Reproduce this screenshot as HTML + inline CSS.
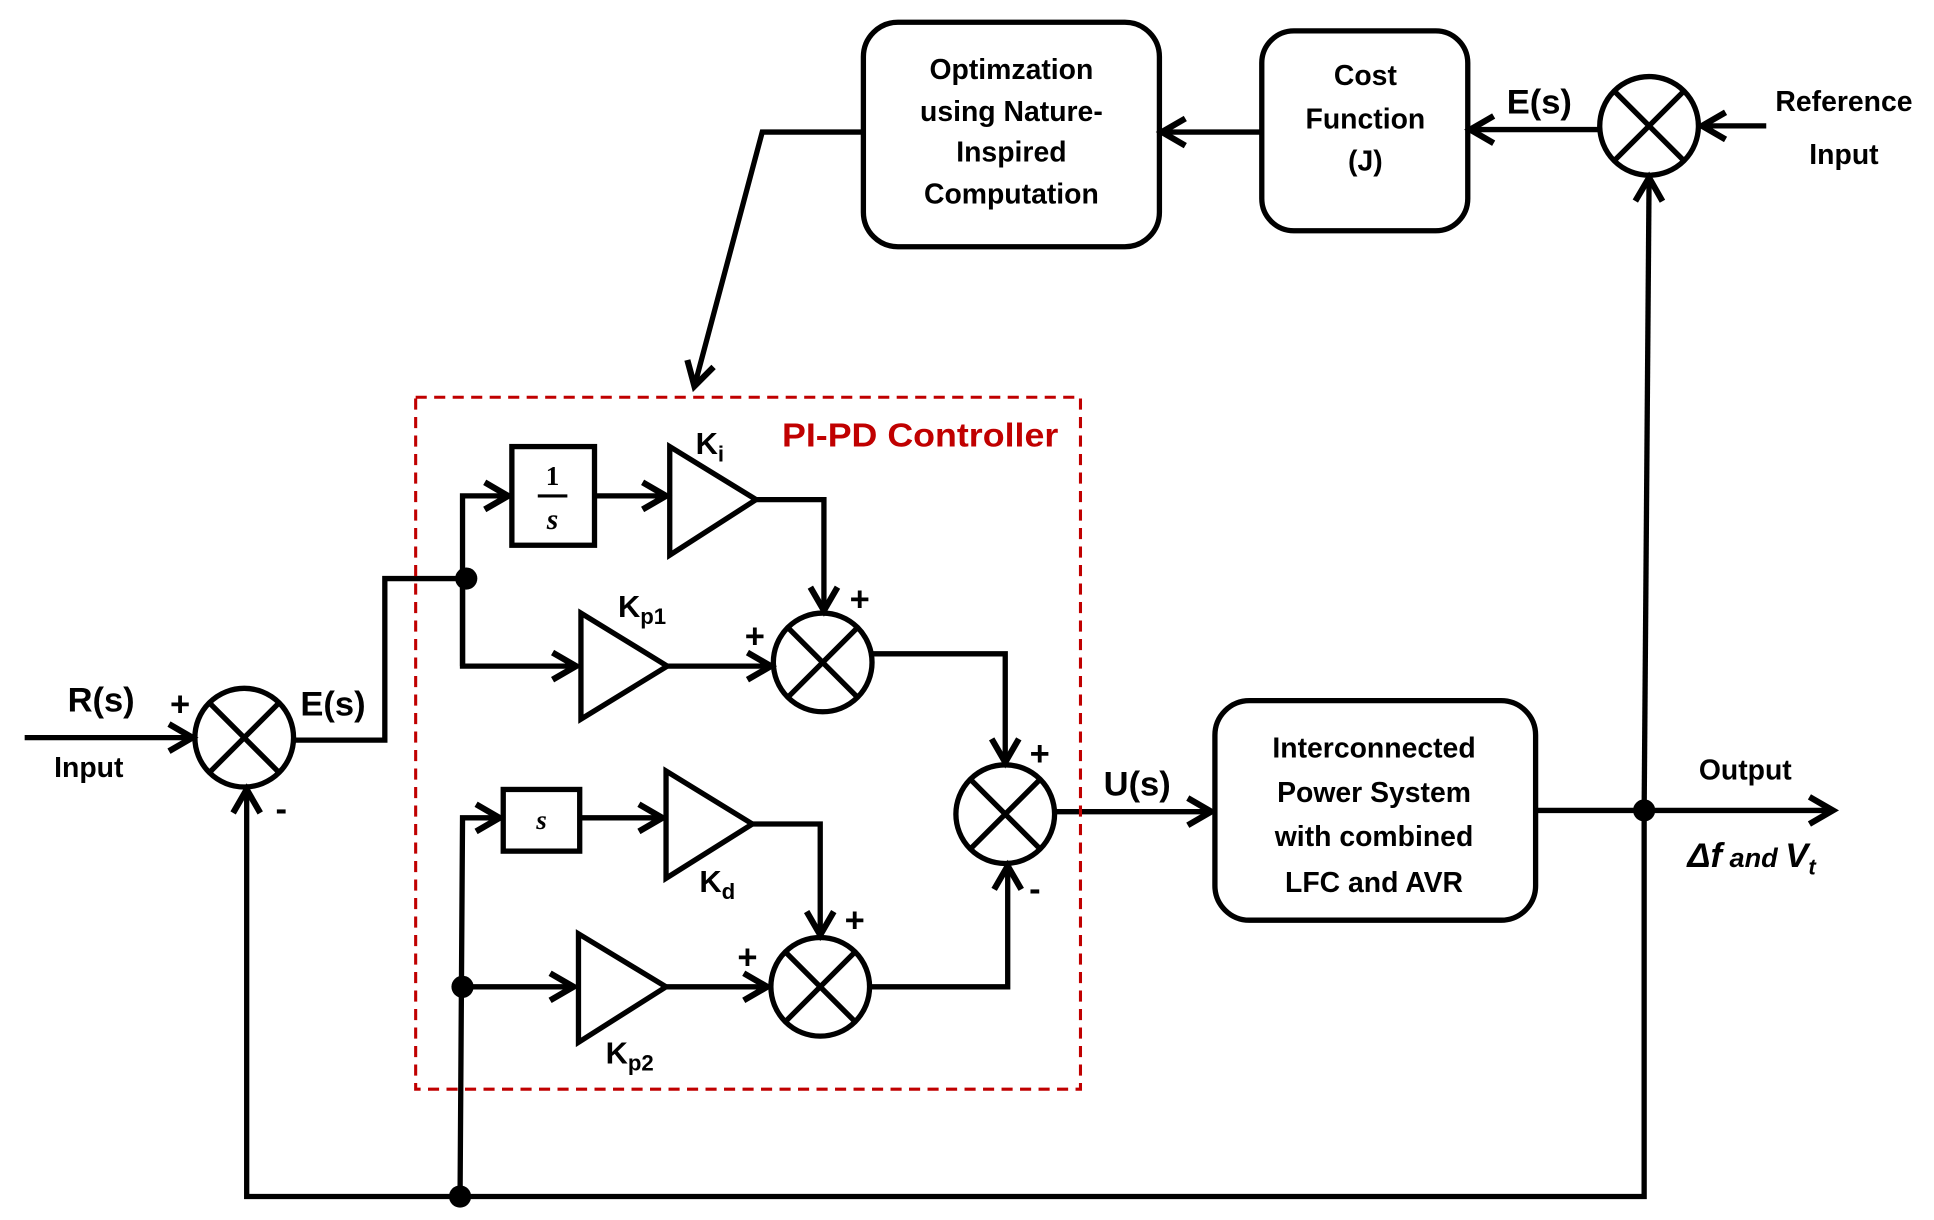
<!DOCTYPE html>
<html><head><meta charset="utf-8"><style>
html,body{margin:0;padding:0;background:#fff;}
svg{display:block}
text{font-family:"Liberation Sans",sans-serif;font-weight:bold;fill:#000}
</style></head><body>
<svg width="1934" height="1220" viewBox="0 0 1568 989" xmlns="http://www.w3.org/2000/svg">
<defs>
<marker id="a" markerWidth="10" markerHeight="10" refX="8" refY="5" orient="auto" markerUnits="userSpaceOnUse" viewBox="0 0 10 10" style="overflow:visible">
<path d="M-11,-6 L8,5 L-11,16" fill="none" stroke="#000" stroke-width="5" stroke-linejoin="miter"/>
</marker>
</defs>
<g fill="none" stroke="#000" stroke-width="4.3">
<rect x="700" y="18" width="240" height="182" rx="28"/>
<rect x="1023" y="25" width="167" height="162" rx="26"/>
<circle cx="1337" cy="102" r="40"/>
<path d="M1309,74 L1365,130 M1365,74 L1309,130"/>
<path d="M1432,102 L1380,102" marker-end="url(#a)"/>
<path d="M1297,105 L1192,105" marker-end="url(#a)"/>
<path d="M1023,107 L942,107" marker-end="url(#a)"/>
<path d="M700,107 L618,107 L563,313" marker-end="url(#a)"/>
<path d="M1333,657 L1337,144" marker-end="url(#a)"/>
<path d="M20,598 L156,598" marker-end="url(#a)"/>
<circle cx="198" cy="598" r="40"/>
<path d="M170,570 L226,626 M226,570 L170,626"/>
<path d="M238,600 L312,600 L312,469 L378,469"/>
<path d="M375,540 L375,402 L412,402" marker-end="url(#a)"/>
<path d="M375,469 L375,540 L467,540" marker-end="url(#a)"/>
<rect x="415" y="362" width="67" height="80"/>
<path d="M482,402 L540,402" marker-end="url(#a)"/>
<path d="M543,362 L543,450 L613,405 Z"/>
<path d="M613,405 L668,405 L668,495" marker-end="url(#a)"/>
<path d="M471,497 L471,583 L541,540 Z"/>
<path d="M541,540 L625,540" marker-end="url(#a)"/>
<circle cx="667" cy="537" r="40"/>
<path d="M639,509 L695,565 M695,509 L639,565"/>
<path d="M707,530 L815,530 L815,618" marker-end="url(#a)"/>
<circle cx="815" cy="660" r="40"/>
<path d="M787,632 L843,688 M843,632 L787,688"/>
<path d="M855,658 L982,658" marker-end="url(#a)"/>
<rect x="985" y="568" width="260" height="178" rx="28"/>
<path d="M1245,657 L1486,657" marker-end="url(#a)"/>
<path d="M1333,657 L1333,970 L200,970 L200,640" marker-end="url(#a)"/>
<path d="M373,970 L375,663 L405,663" marker-end="url(#a)"/>
<rect x="408" y="640" width="62" height="50"/>
<path d="M470,663 L537,663" marker-end="url(#a)"/>
<path d="M540,625 L540,712 L610,668 Z"/>
<path d="M610,668 L665,668 L665,758" marker-end="url(#a)"/>
<path d="M375,800 L465,800" marker-end="url(#a)"/>
<path d="M469,757 L469,845 L540,800 Z"/>
<path d="M540,800 L622,800" marker-end="url(#a)"/>
<circle cx="665" cy="800" r="40"/>
<path d="M637,772 L693,828 M693,772 L637,828"/>
<path d="M705,800 L817,800 L817,702" marker-end="url(#a)"/>
</g>
<g fill="#000">
<circle cx="378" cy="469" r="9"/>
<circle cx="375" cy="800" r="9"/>
<circle cx="373" cy="970" r="9"/>
<circle cx="1333" cy="657" r="9"/>
</g>
<rect x="337" y="322" width="539" height="561" fill="none" stroke="#c00000" stroke-width="2.5" stroke-dasharray="9,6"/>
<text x="746" y="362" text-anchor="middle" font-size="27" textLength="224" lengthAdjust="spacingAndGlyphs" style="fill:#c00000">PI-PD Controller</text>
<g font-size="23" text-anchor="middle">
<text x="820" y="64">Optimzation</text>
<text x="820" y="98">using Nature-</text>
<text x="820" y="131">Inspired</text>
<text x="820" y="165">Computation</text>
<text x="1107" y="69">Cost</text>
<text x="1107" y="104">Function</text>
<text x="1107" y="138">(J)</text>
<text x="1495" y="90">Reference</text>
<text x="1495" y="133">Input</text>
<text x="1114" y="614">Interconnected</text>
<text x="1114" y="650">Power System</text>
<text x="1114" y="686">with combined</text>
<text x="1114" y="723">LFC and AVR</text>
<text x="1415" y="632">Output</text>
<text x="72" y="630">Input</text>
</g>
<g font-size="28" text-anchor="middle">
<text x="1248" y="92">E(s)</text>
<text x="82" y="577">R(s)</text>
<text x="270" y="580">E(s)</text>
<text x="922" y="645">U(s)</text>
<text x="146" y="580">+</text>
<text x="228" y="665">-</text>
<text x="697" y="495">+</text>
<text x="612" y="525">+</text>
<text x="843" y="620">+</text>
<text x="839" y="730">-</text>
<text x="693" y="755">+</text>
<text x="606" y="785">+</text>
</g>
<text x="1368" y="703" font-size="28" font-style="italic">Δf<tspan font-size="22"> and </tspan>V<tspan font-size="18" dy="6">t</tspan></text>
<g font-size="25">
<text x="564" y="368">K<tspan font-size="18" dy="6">i</tspan></text>
<text x="501" y="500">K<tspan font-size="18" dy="6">p1</tspan></text>
<text x="567" y="723">K<tspan font-size="18" dy="6">d</tspan></text>
<text x="491" y="862">K<tspan font-size="18" dy="6">p2</tspan></text>
</g>
<text x="448" y="393" text-anchor="middle" font-size="22" style="font-family:'Liberation Serif',serif">1</text>
<line x1="436" y1="402" x2="460" y2="402" stroke="#000" stroke-width="2.5"/>
<text x="448" y="429" text-anchor="middle" font-size="24" style="font-family:'Liberation Serif',serif;font-style:italic">s</text>
<text x="439" y="672" text-anchor="middle" font-size="22" style="font-family:'Liberation Serif',serif;font-style:italic">s</text>
</svg>
</body></html>
